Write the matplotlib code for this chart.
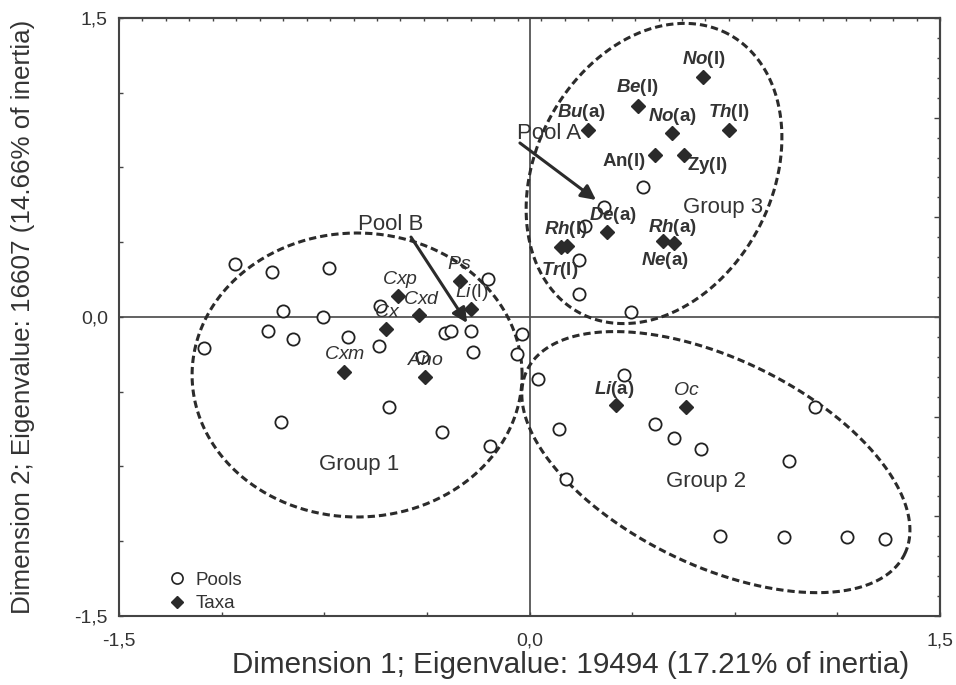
import numpy as np
import matplotlib
matplotlib.use("Agg")
import matplotlib.pyplot as plt
from matplotlib.ticker import MultipleLocator, FixedLocator, NullFormatter
from matplotlib.lines import Line2D

plt.rcParams['font.family'] = ['Liberation Sans', 'DejaVu Sans']
plt.rcParams['mathtext.fontset'] = 'custom'
plt.rcParams['mathtext.rm'] = 'Liberation Sans'
plt.rcParams['mathtext.it'] = 'Liberation Sans:italic'
plt.rcParams['mathtext.bf'] = 'Liberation Sans:bold'
plt.rcParams['mathtext.bfit'] = 'Liberation Sans:italic:bold'

# ---------------- data ----------------
pool_x = [-1.076, -0.941, -0.733, -0.901, -0.754, -0.955, -0.864, -1.189, -0.663, -0.550,
          -0.546, -0.309, -0.287, -0.214, -0.206, -0.152, -0.393, -0.908, -0.513, -0.320,
          -0.144, -0.027, -0.046,
          0.415, 0.272, 0.203, 0.181, 0.181, 0.371,
          0.031, 0.345, 0.108, 0.459, 0.528, 0.627, 1.043, 0.948, 0.133, 0.696, 0.930,
          1.160, 1.299]
pool_y = [0.266, 0.226, 0.246, 0.030, 0.000, -0.070, -0.110, -0.156, -0.100, -0.146,
          0.055, -0.080, -0.070, -0.070, -0.176, 0.191, -0.201, -0.527, -0.452, -0.577,
          -0.647, -0.085, -0.186,
          0.652, 0.552, 0.457, 0.286, 0.115, 0.025,
          -0.311, -0.291, -0.562, -0.537, -0.607, -0.662, -0.452, -0.723, -0.813, -1.099, -1.104,
          -1.104, -1.114]

taxa_abbr = ['No', 'Be', 'Bu', 'No', 'Th', 'An', 'Zy', 'De', 'Rh', 'Tr', 'Rh', 'Ne',
             'Ps', 'Li', 'Cxp', 'Cxd', 'Cx', 'Cxm', 'Ano', 'Li', 'Oc']
taxa_stage = ['(l)', '(l)', '(a)', '(a)', '(l)', '(l)', '(l)', '(a)', '(l)', '(l)', '(a)', '(a)',
              '', '(l)', '', '', '', '', '', '(a)', '']
taxa_style = ['bi', 'bi', 'bi', 'bi', 'bi', 'b', 'b', 'bi', 'bi', 'bi', 'bi', 'bi',
              'i', 'i', 'i', 'i', 'i', 'i', 'i', 'bi', 'i']
taxa_x = [0.634, 0.396, 0.214, 0.521, 0.729, 0.459, 0.564, 0.283, 0.115, 0.137, 0.488, 0.528,
          -0.254, -0.214, -0.480, -0.404, -0.524, -0.678, -0.382, 0.316, 0.572]
taxa_y = [1.204, 1.059, 0.938, 0.923, 0.938, 0.813, 0.813, 0.426, 0.351, 0.356, 0.381, 0.371,
          0.181, 0.040, 0.105, 0.010, -0.060, -0.276, -0.301, -0.442, -0.452]

group_names = ['Group 1', 'Group 2', 'Group 3']
group_text_x = [-0.623, 0.645, 0.707]
group_text_y = [-0.738, -0.823, 0.547]

pool_names = ['Pool A', 'Pool B']
pool_text_x = [0.071, -0.506]
pool_text_y = [0.923, 0.462]
arrow_start_x = [-0.035, -0.433]
arrow_start_y = [0.873, 0.401]
arrow_end_x = [0.243, -0.228]
arrow_end_y = [0.587, -0.030]

tick_vals = [-1.5, 0.0, 1.5]
tick_labels = ['-1,5', '0,0', '1,5']

xlabel = 'Dimension 1; Eigenvalue: 19494 (17.21% of inertia)'
ylabel = 'Dimension 2; Eigenvalue: 16607 (14.66% of inertia)'

# ---------------- styling / layout ----------------
TXT = '#333333'
# label offsets in pixels (dx, dy)
label_off = [(1, 18), (-1, 18), (-7, 18), (0, 17), (0, 18), (-31, -7), (23, -11), (6, 17),
             (5, 18), (-7, -24), (9, 14), (-9, -17),
             (-1, 16), (1, 17), (2, 17), (3, 16), (1, 16), (1, 18), (1, 16), (-2, 16), (0, 17)]

fig = plt.figure(figsize=(9.56, 6.85), dpi=100)
ax = fig.add_axes([119 / 956, 1 - 616 / 685, 821 / 956, 598 / 685])
ax.set_xlim(-1.5, 1.5)
ax.set_ylim(-1.5, 1.5)

SX = 821 / 3.0
SY = 598 / 3.0


def ellipse(cx, cy, a, b, ang):
    t = np.linspace(0, 2 * np.pi, 400)
    r = np.deg2rad(ang)
    dx = a * np.cos(t) * np.cos(r) - b * np.sin(t) * np.sin(r)
    dy = a * np.cos(t) * np.sin(r) + b * np.sin(t) * np.cos(r)
    return cx + dx / SX, cy + dy / SY


ell_specs = [(-0.630, -0.291, 165, 142, 0), (0.681, -0.728, 210, 103, -26),
             (0.455, 0.720, 158, 118, 62)]
for cx, cy, a, b, ang in ell_specs:
    ex, ey = ellipse(cx, cy, a, b, ang)
    ax.plot(ex, ey, color='#2b2b2b', lw=2.2, linestyle=(0, (2.4, 1.3)), zorder=2)

ax.axhline(0, color='#555555', lw=1.3, zorder=1)
ax.axvline(0, color='#555555', lw=1.3, zorder=1)

ax.plot(pool_x, pool_y, linestyle='none', marker='o', ms=8.8, mfc='white', mec='#222222',
        mew=1.3, zorder=4)
ax.plot(taxa_x, taxa_y, linestyle='none', marker='D', ms=7.5, mfc='#2a2a2a', mec='#2a2a2a',
        zorder=5)

for i, (ab, st, sty) in enumerate(zip(taxa_abbr, taxa_stage, taxa_style)):
    if sty == 'bi':
        s = r'$\mathbfit{%s}\mathbf{%s}$' % (ab, st)
    elif sty == 'b':
        s = r'$\mathbf{%s%s}$' % (ab, st)
    else:
        s = r'$\mathit{%s}\mathrm{%s}$' % (ab, st) if st else r'$\mathit{%s}$' % ab
    dx, dy = label_off[i]
    ax.annotate(s, xy=(taxa_x[i], taxa_y[i]), xytext=(dx, dy), textcoords='offset pixels',
                ha='center', va='center', fontsize=13.5 if sty != 'i' else 14,
                color=TXT, zorder=6)

for nm, gx, gy in zip(group_names, group_text_x, group_text_y):
    ax.text(gx, gy, nm, ha='center', va='center', fontsize=16, color=TXT, zorder=6)

for k in range(2):
    ax.text(pool_text_x[k], pool_text_y[k], pool_names[k], ha='center', va='center',
            fontsize=16, color=TXT, zorder=6)
    ax.annotate('', xy=(arrow_end_x[k], arrow_end_y[k]),
                xytext=(arrow_start_x[k], arrow_start_y[k]),
                arrowprops=dict(arrowstyle='-|>', lw=2.2, color='#2b2b2b',
                                mutation_scale=22, shrinkA=0, shrinkB=0), zorder=6)

# ticks
ax.xaxis.set_major_locator(FixedLocator(tick_vals))
ax.yaxis.set_major_locator(FixedLocator(tick_vals))
ax.set_xticklabels(tick_labels)
ax.set_yticklabels(tick_labels)
ax.xaxis.set_minor_locator(MultipleLocator(0.375))
ax.yaxis.set_minor_locator(MultipleLocator(0.375))
ax.tick_params(which='both', direction='in', color='#444444', top=False, right=False)
ax.tick_params(which='major', length=3, width=1)
ax.tick_params(which='minor', length=3, width=1)
ax.tick_params(axis='x', which='major', labelsize=14, pad=12, labelcolor=TXT)
ax.tick_params(axis='y', which='major', labelsize=14, pad=8, labelcolor=TXT)

secx = ax.secondary_xaxis('top')
secx.xaxis.set_major_locator(FixedLocator(np.linspace(-1.5, 1.5, 36)))
secx.xaxis.set_major_formatter(NullFormatter())
secx.tick_params(direction='in', length=2, width=1, color='#444444')
secy = ax.secondary_yaxis('right')
secy.yaxis.set_major_locator(MultipleLocator(0.5))
secy.yaxis.set_minor_locator(MultipleLocator(0.1))
secy.yaxis.set_major_formatter(NullFormatter())
secy.tick_params(which='major', direction='in', length=4, width=1, color='#444444')
secy.tick_params(which='minor', direction='in', length=2, width=1, color='#444444')
for sp in list(secx.spines.values()) + list(secy.spines.values()):
    sp.set_color('#444444')
    sp.set_linewidth(1.5)

for sp in ax.spines.values():
    sp.set_color('#444444')
    sp.set_linewidth(1.5)

ax.set_xlabel(xlabel, fontsize=21.3, color=TXT)
ax.xaxis.set_label_coords(0.5506, -0.058, transform=ax.transAxes)
ax.xaxis.label.set_va('top')
ax.set_ylabel(ylabel, fontsize=18.7, color=TXT)
ax.yaxis.set_label_coords(-0.1023, 0.5, transform=ax.transAxes)
ax.yaxis.label.set_va('bottom')

handles = [Line2D([], [], linestyle='none', marker='o', ms=8, mfc='white', mec='#222222', mew=1.2),
           Line2D([], [], linestyle='none', marker='D', ms=6.5, mfc='#2a2a2a', mec='#2a2a2a')]
ax.legend(handles, ['Pools', 'Taxa'], loc='lower left', bbox_to_anchor=(0.057, 0.003),
          frameon=False, fontsize=13.5, handlelength=1.0, handletextpad=0.5,
          labelspacing=0.35, borderaxespad=0.0, borderpad=0.1, labelcolor=TXT)

fig.savefig('out.png', dpi=100)
